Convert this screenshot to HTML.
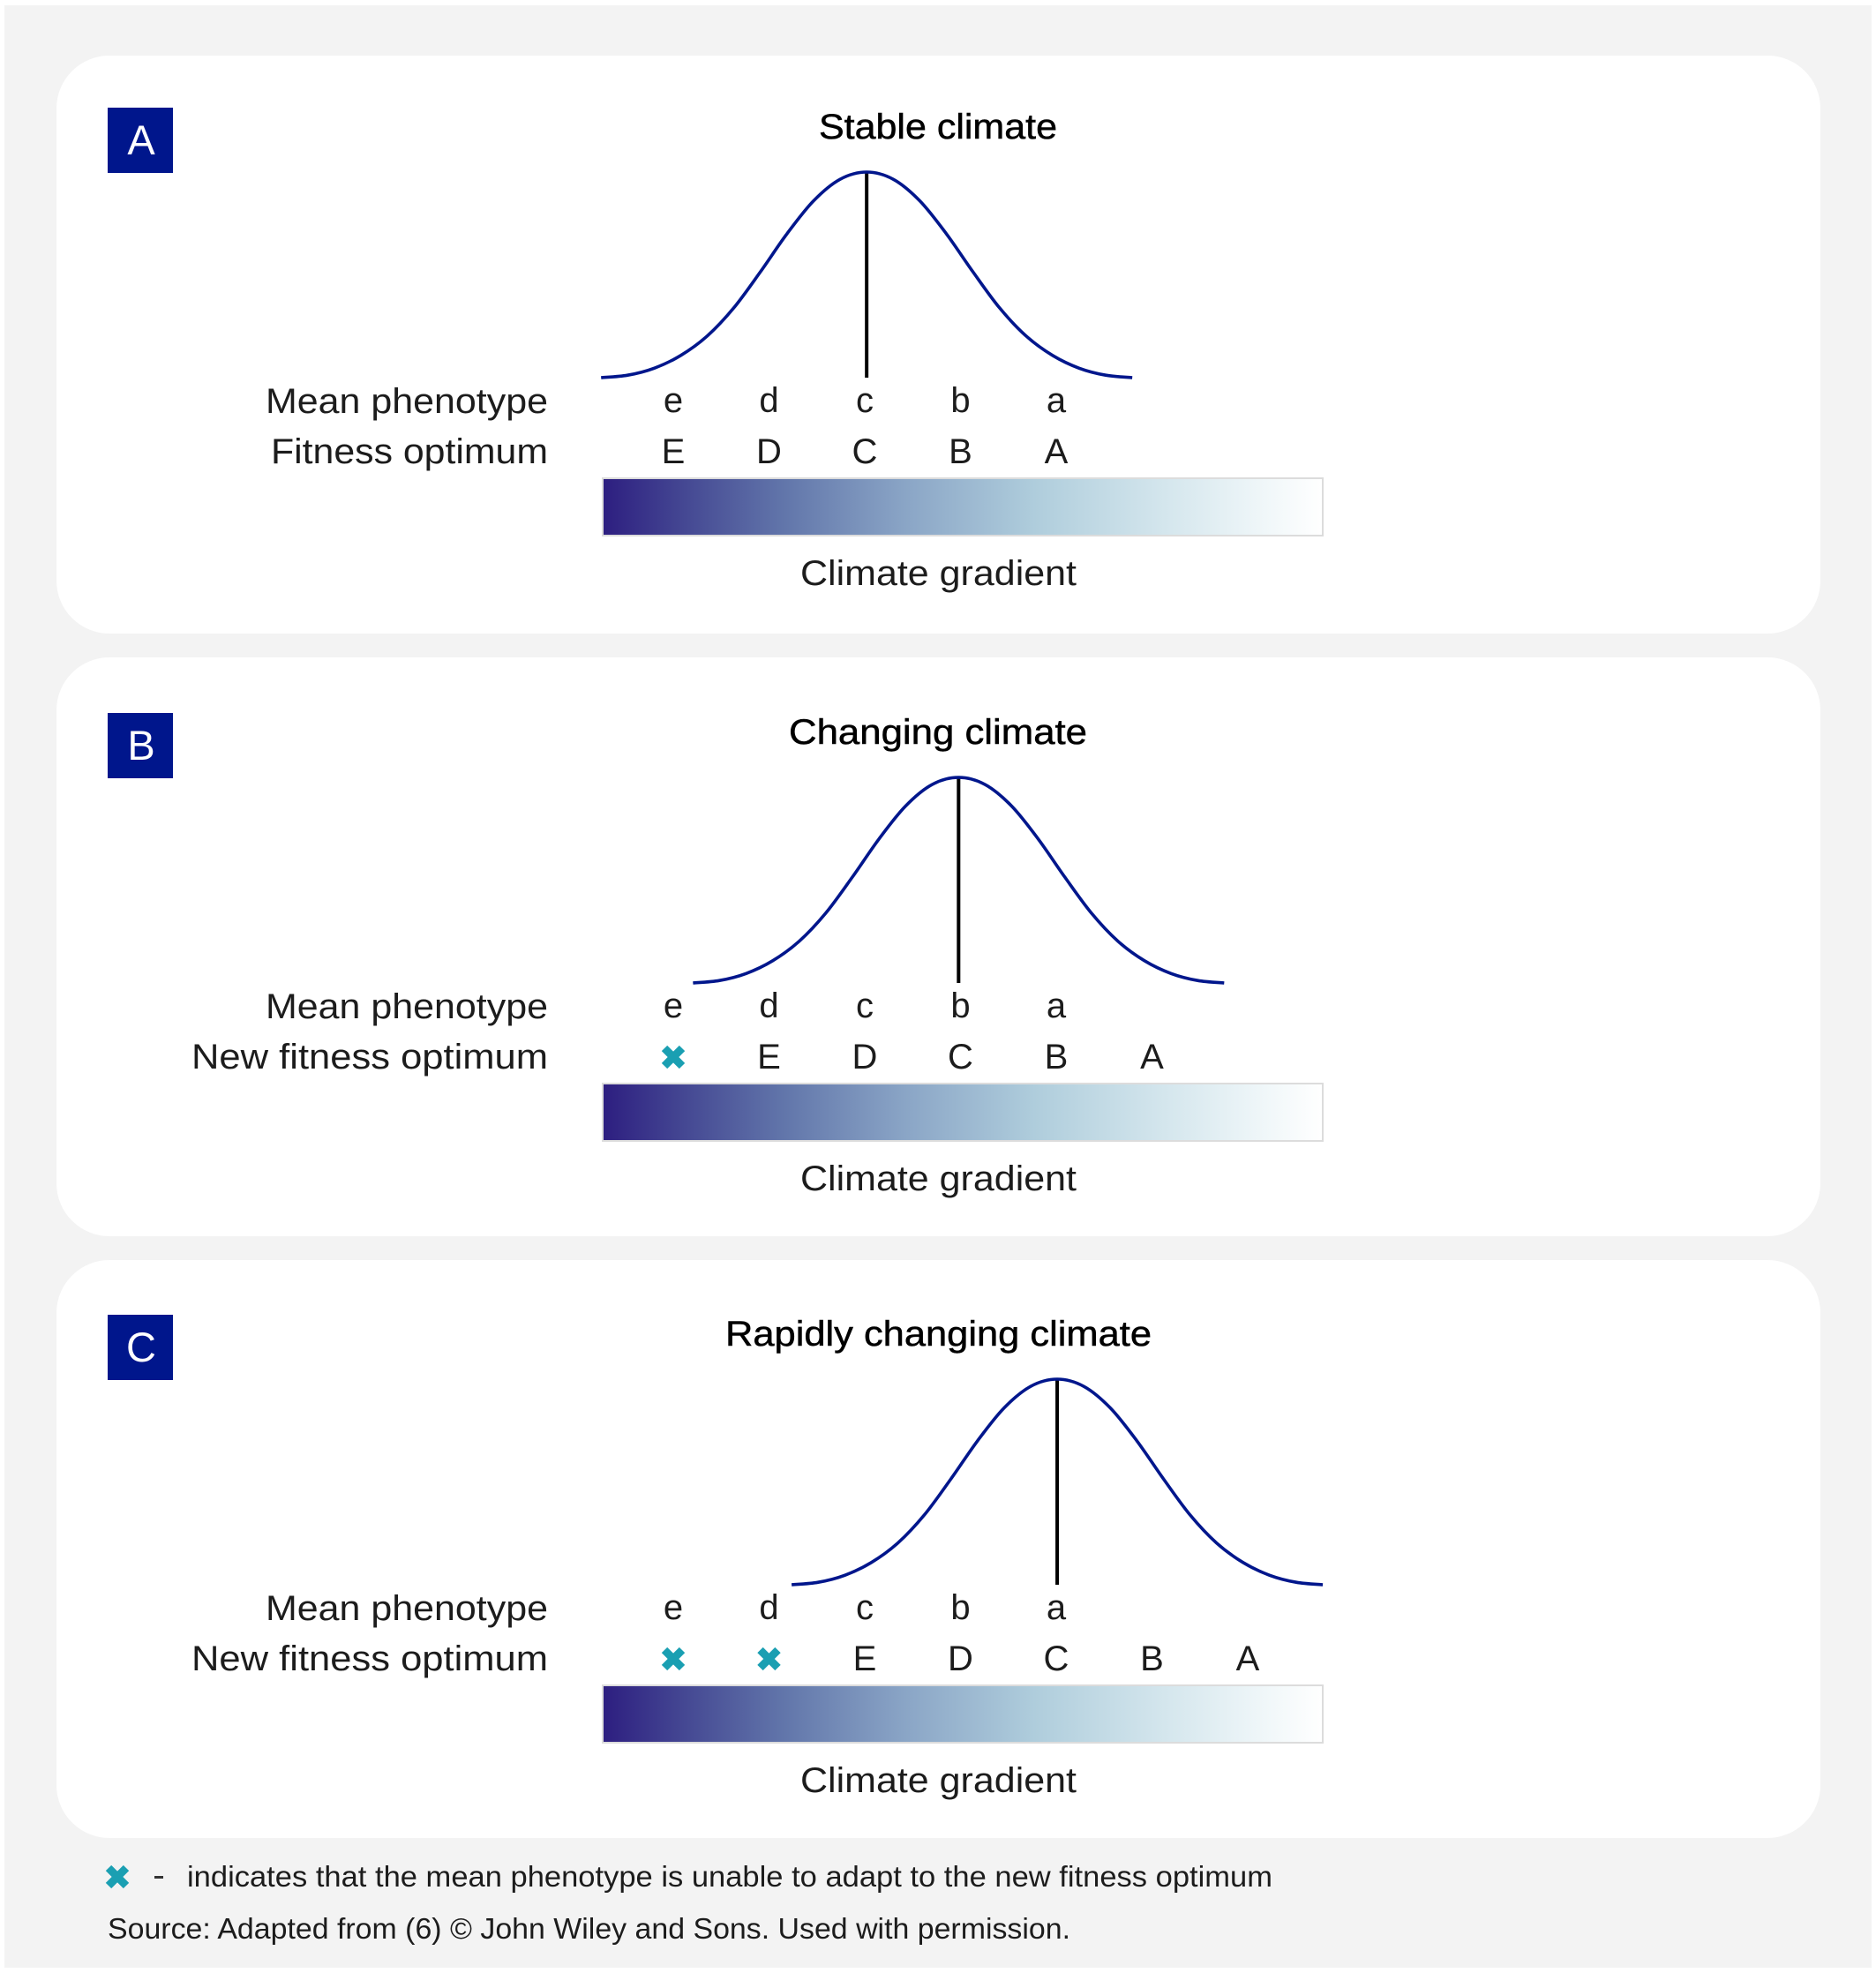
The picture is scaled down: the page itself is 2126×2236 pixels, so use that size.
<!DOCTYPE html>
<html lang="en">
<head>
<meta charset="utf-8">
<title>Climate gradient and fitness optimum</title>
<style>
html,body{margin:0;padding:0;background:#fff;}
svg{display:block;}
text{font-family:"Liberation Sans",sans-serif;fill:#1c1c1c;}
.row{font-size:40px;}
.title{font-size:40px;fill:#000;stroke:#000;stroke-width:.5px;}
.note{font-size:33px;}
.badge-letter{font-size:47px;fill:#fff;text-anchor:middle;}
.tick{font-size:40px;text-anchor:middle;}
</style>
</head>
<body>
<svg id="figure" xmlns="http://www.w3.org/2000/svg" width="2126" height="2236" viewBox="0 0 2126 2236">
  <defs>
    <linearGradient id="climate-ramp" x1="0" y1="0" x2="1" y2="0">
      <stop offset="0" stop-color="#2d1e80"/>
      <stop offset=".12" stop-color="#464a94"/>
      <stop offset=".25" stop-color="#6175aa"/>
      <stop offset=".42" stop-color="#8aa5c6"/>
      <stop offset=".6" stop-color="#afcddc"/>
      <stop offset=".78" stop-color="#d4e6ed"/>
      <stop offset=".92" stop-color="#f0f7f9"/>
      <stop offset="1" stop-color="#ffffff"/>
    </linearGradient>
  </defs>
  <rect x="5" y="6" width="2116" height="2224" fill="#f3f3f3"/>

  <rect x="64" y="63" width="1999" height="655" rx="60" fill="#fff"/>
  <rect x="64" y="745" width="1999" height="656" rx="60" fill="#fff"/>
  <rect x="64" y="1428" width="1999" height="655" rx="60" fill="#fff"/>

  <g>
    <rect x="122" y="122" width="74" height="74" fill="#00168c"/>
    <text class="badge-letter" x="160" y="175">A</text>
    <text class="title" x="928" y="157" textLength="270" lengthAdjust="spacingAndGlyphs">Stable climate</text>
    <text class="row" x="301" y="468" textLength="320" lengthAdjust="spacingAndGlyphs">Mean phenotype</text>
    <text class="row" x="307" y="525" textLength="314" lengthAdjust="spacingAndGlyphs">Fitness optimum</text>
    <rect x="683" y="542" width="816" height="65" fill="url(#climate-ramp)" stroke="#dcdcdc" stroke-width="2"/>
    <text class="row" x="907" y="663" textLength="313" lengthAdjust="spacingAndGlyphs">Climate gradient</text>
  </g>

  <g>
    <rect x="122" y="808" width="74" height="74" fill="#00168c"/>
    <text class="badge-letter" x="160" y="861">B</text>
    <text class="title" x="894" y="843" textLength="338" lengthAdjust="spacingAndGlyphs">Changing climate</text>
    <text class="row" x="301" y="1154" textLength="320" lengthAdjust="spacingAndGlyphs">Mean phenotype</text>
    <text class="row" x="217" y="1211" textLength="404" lengthAdjust="spacingAndGlyphs">New fitness optimum</text>
    <rect x="683" y="1228" width="816" height="65" fill="url(#climate-ramp)" stroke="#dcdcdc" stroke-width="2"/>
    <text class="row" x="907" y="1349" textLength="313" lengthAdjust="spacingAndGlyphs">Climate gradient</text>
  </g>

  <g>
    <rect x="122" y="1490" width="74" height="74" fill="#00168c"/>
    <text class="badge-letter" x="160" y="1543">C</text>
    <text class="title" x="822" y="1525" textLength="483" lengthAdjust="spacingAndGlyphs">Rapidly changing climate</text>
    <text class="row" x="301" y="1836" textLength="320" lengthAdjust="spacingAndGlyphs">Mean phenotype</text>
    <text class="row" x="217" y="1893" textLength="404" lengthAdjust="spacingAndGlyphs">New fitness optimum</text>
    <rect x="683" y="1910" width="816" height="65" fill="url(#climate-ramp)" stroke="#dcdcdc" stroke-width="2"/>
    <text class="row" x="907" y="2031" textLength="313" lengthAdjust="spacingAndGlyphs">Climate gradient</text>
  </g>

  <g id="marks"></g>

  <g>
    <g transform="translate(133,2127)">
      <path d="M-10 -10L10 10M10 -10L-10 10" stroke="#1a9fb2" stroke-width="9" fill="none"/>
    </g>
    <rect x="175" y="2126" width="10" height="3" fill="#333"/>
    <text class="note" x="212" y="2138" textLength="1230" lengthAdjust="spacingAndGlyphs">indicates that the mean phenotype is unable to adapt to the new fitness optimum</text>
    <text class="note" x="122" y="2197" textLength="1091" lengthAdjust="spacingAndGlyphs">Source: Adapted from (6) © John Wiley and Sons. Used with permission.</text>
  </g>
</svg>
<script>
// Panel identifiers
const panelIds = ['a', 'b', 'c'];
// Mean phenotype labels, one per column
const meanLabels = ['e', 'd', 'c', 'b', 'a'];
// Optimum labels per panel ("x" = phenotype cannot adapt)
const optimumA = ['E', 'D', 'C', 'B', 'A'];
const optimumB = ['x', 'E', 'D', 'C', 'B', 'A'];
const optimumC = ['x', 'x', 'E', 'D', 'C', 'B', 'A'];
const optimumRows = [optimumA, optimumB, optimumC];
// Position of each curve peak along the climate axis, in column units
const peakColumns = [2.02, 2.98, 4.01];
// Curve half width in column units
const curveHalfWidth = 2.774;
// Relative curve height at evenly spaced positions
const curveHeights = [0, 0.012, 0.046, 0.108, 0.203, 0.34, 0.515, 0.70, 0.86, 0.965, 1,
                      0.965, 0.86, 0.70, 0.515, 0.34, 0.203, 0.108, 0.046, 0.012, 0];

const SVGNS = 'http://www.w3.org/2000/svg';
const marks = document.getElementById('marks');
const panelShift = function (p) { return [0, 686, 1368][p]; };
const xColumn = function (c) { return 763 + 108.5 * c; };
const yCurve = function (h, p) { return 428 + panelShift(p) - 233 * h; };

function make(tag, attrs, parent) {
  const node = document.createElementNS(SVGNS, tag);
  Object.keys(attrs).forEach(function (k) { node.setAttribute(k, attrs[k]); });
  parent.appendChild(node);
  return node;
}

function curvePath(p) {
  const pts = curveHeights.map(function (h, i) {
    const u = (i / (curveHeights.length - 1)) * 2 - 1;
    return [xColumn(peakColumns[p] + u * curveHalfWidth), yCurve(h, p)];
  });
  let d = 'M' + pts[0][0].toFixed(2) + ' ' + pts[0][1].toFixed(2);
  for (let i = 0; i < pts.length - 1; i++) {
    const p0 = pts[Math.max(i - 1, 0)];
    const p1 = pts[i];
    const p2 = pts[i + 1];
    const p3 = pts[Math.min(i + 2, pts.length - 1)];
    const c1x = p1[0] + (p2[0] - p0[0]) / 6;
    const c1y = p1[1] + (p2[1] - p0[1]) / 6;
    const c2x = p2[0] - (p3[0] - p1[0]) / 6;
    const c2y = p2[1] - (p3[1] - p1[1]) / 6;
    d += 'C' + c1x.toFixed(2) + ' ' + c1y.toFixed(2) + ' ' + c2x.toFixed(2) + ' ' + c2y.toFixed(2) + ' ' + p2[0].toFixed(2) + ' ' + p2[1].toFixed(2);
  }
  return d;
}

panelIds.forEach(function (id, p) {
  const shift = panelShift(p);

  const stem = make('line', {
    x1: xColumn(peakColumns[p]), x2: xColumn(peakColumns[p]),
    y1: yCurve(1, p), y2: yCurve(0, p),
    stroke: '#000', 'stroke-width': 4
  }, marks);
  
  

  const curve = make('path', {
    d: curvePath(p), fill: 'none', stroke: '#00168c', 'stroke-width': 3.6
  }, marks);
  
  

  meanLabels.forEach(function (label, c) {
    const t = make('text', { class: 'tick', x: xColumn(c), y: 467 + shift }, marks);
    t.textContent = label;
    
    
  });

  optimumRows[p].forEach(function (label, c) {
    if (label === 'x') {
      const g = make('g', { transform: 'translate(' + xColumn(c) + ',' + (512 + shift) + ')' }, marks);
      make('path', { d: 'M-10 -10L10 10M10 -10L-10 10', stroke: '#1a9fb2', 'stroke-width': 9, fill: 'none' }, g);
      
      
    } else {
      const t = make('text', { class: 'tick', x: xColumn(c), y: 525 + shift }, marks);
      t.textContent = label;
      
      
    }
  });
});
</script>
</body>
</html>
